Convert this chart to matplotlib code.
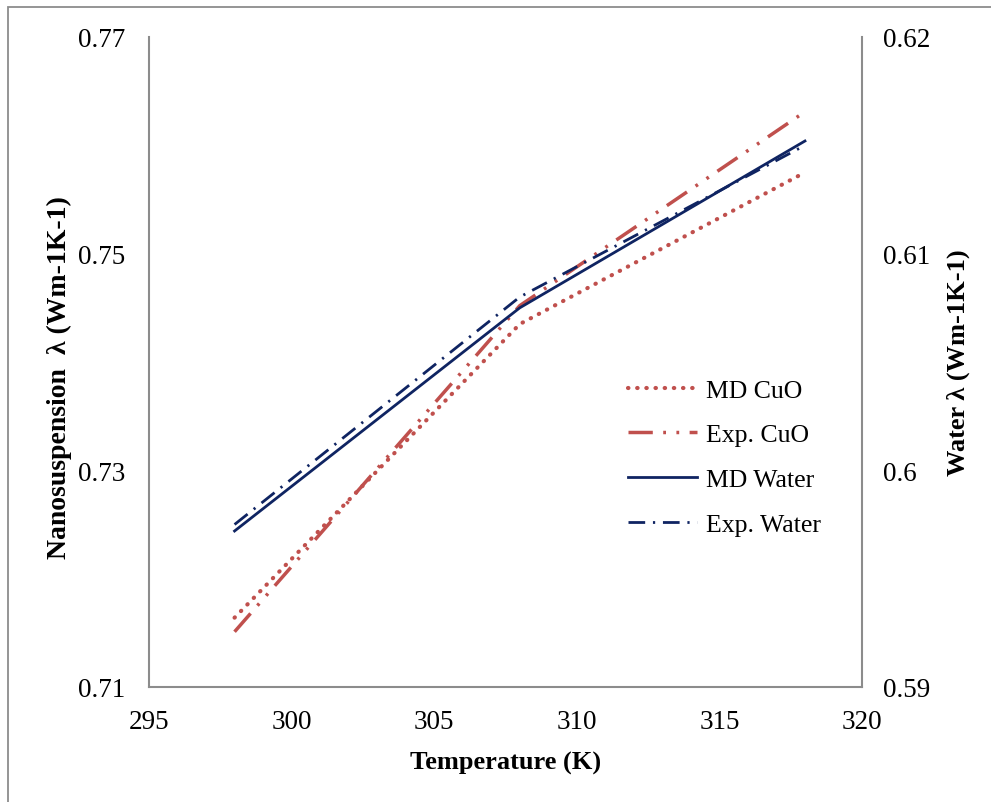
import matplotlib
matplotlib.use("Agg")
import matplotlib.pyplot as plt
from matplotlib.patches import Rectangle

plt.rcParams['font.family'] = ['Liberation Serif', 'DejaVu Serif']

# Data
temps = [298, 308, 318]
mdCuO = [0.7164, 0.7435, 0.7575]
expCuO = [0.7151, 0.7452, 0.7631]
mdWater = [0.5972, 0.6075, 0.6152]
expWater = [0.5975, 0.6080, 0.6150]

xTicks = [295, 300, 305, 310, 315, 320]
leftTicks = [0.71, 0.73, 0.75, 0.77]
rightTicks = [0.59, 0.60, 0.61, 0.62]
rightTickLabels = ['0.59', '0.6', '0.61', '0.62']

red = '#C0504D'
navy = '#0F2462'
gray = '#8C8C8C'

fig = plt.figure(figsize=(9.91, 8.03), dpi=100)
fig.patches.append(Rectangle((8/991, -0.1), 1.2, 1 - 8/803 + 0.1, transform=fig.transFigure,
                             fill=False, edgecolor=gray, linewidth=1.3))

ax1 = fig.add_axes([149/991, 1 - 688/803, (862-149)/991, (688-38)/803])
ax2 = ax1.twinx()

l1, = ax1.plot(temps, mdCuO, color=red, linewidth=3, linestyle=(0, (0.1, 2.1)),
               dash_capstyle='round', label='MD CuO')
l2, = ax1.plot(temps, expCuO, color=red, linewidth=2.5, linestyle=(0, (7, 3, 0.8, 3, 0.8, 3)),
               label='Exp. CuO')
l3, = ax2.plot(temps, mdWater, color=navy, linewidth=2, label='MD Water')
l4, = ax2.plot(temps, expWater, color=navy, linewidth=2, linestyle=(0, (6, 2.8, 0.8, 2.8)),
               label='Exp. Water')

ax1.set_xlim(295, 320)
ax1.set_ylim(0.71, 0.77)
ax2.set_ylim(0.59, 0.62)
ax1.set_xticks(xTicks)
ax1.set_yticks(leftTicks)
ax1.set_yticklabels([f'{v:.2f}' for v in leftTicks])
ax2.set_yticks(rightTicks)
ax2.set_yticklabels(rightTickLabels)

for ax in (ax1, ax2):
    ax.tick_params(length=0, labelsize=19.5, colors='black')
    for s in ax.spines.values():
        s.set_visible(False)
ax1.tick_params(axis='y', pad=17)
ax1.tick_params(axis='x', pad=16)
ax2.tick_params(axis='y', pad=15)
ax1.spines['left'].set_visible(True)
ax1.spines['bottom'].set_visible(True)
ax2.spines['right'].set_visible(True)
for s in (ax1.spines['left'], ax1.spines['bottom'], ax2.spines['right']):
    s.set_color(gray)
    s.set_linewidth(1.5)

ax1.set_xlabel('Temperature (K)', fontsize=19, fontweight='bold', labelpad=12)
ax1.set_ylabel('Nanosuspension  λ (Wm-1K-1)', fontsize=20, fontweight='bold')
ax1.yaxis.set_label_coords(-0.108, 0.478)
ax2.set_ylabel('Water λ (Wm-1K-1)', fontsize=19, fontweight='bold', labelpad=12)

ax2.legend(handles=[l1, l2, l3, l4], loc='upper left', bbox_to_anchor=(0.639, 0.51),
           frameon=False, fontsize=18.5, handlelength=2.7, labelspacing=0.85, handletextpad=0.35)

fig.savefig('out.png', dpi=100)
